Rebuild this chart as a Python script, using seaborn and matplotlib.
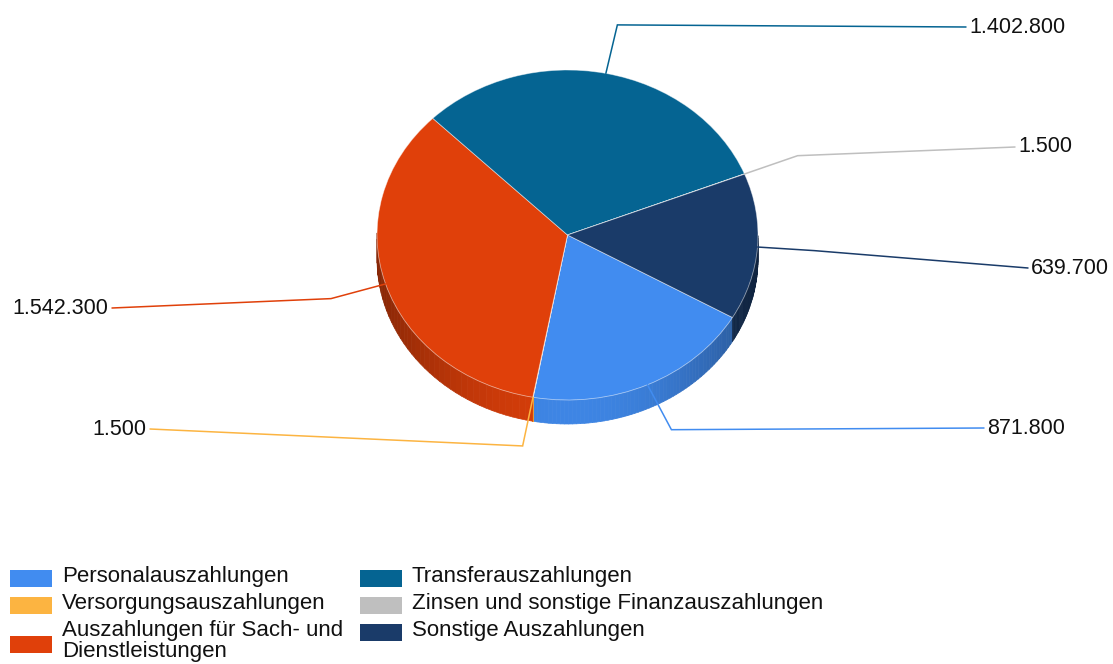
import numpy as np
import matplotlib
matplotlib.use("Agg")
import matplotlib.pyplot as plt
from matplotlib.collections import PolyCollection
from matplotlib.colors import to_rgb
from matplotlib.patches import Rectangle
import seaborn as sns

# data
categories = ["Personalauszahlungen", "Versorgungsauszahlungen",
              "Auszahlungen für Sach- und\nDienstleistungen", "Transferauszahlungen",
              "Zinsen und sonstige Finanzauszahlungen", "Sonstige Auszahlungen"]
values = [871800, 1500, 1542300, 1402800, 1500, 639700]
colors = ["#418CF0", "#FCB441", "#E0400A", "#056492", "#BFBFBF", "#1A3B69"]

# layout (pixels of the 1113x664 picture)
W, H = 1113, 664
CX, CY, RX, RY = 567.5, 235, 190.5, 165
DEPTH = 24 / RY
label_pos = [(987, 428, "left"), (146, 429, "right"), (108, 308, "right"),
             (969, 27, "left"), (1018, 147, "left"), (1031, 268, "left")]

sns.set_style("white")
plt.rcParams["font.family"] = ["Liberation Sans", "DejaVu Sans"]
pal = sns.color_palette(colors)

fig = plt.figure(figsize=(W / 100, H / 100), dpi=100)
ax = fig.add_axes([0, 0, 1, 1])


def px(x, y):
    return (x - CX) / RX, (CY - y) / RY


wedges, _ = ax.pie(values, colors=pal, startangle=-30, counterclock=False,
                   radius=1, center=(0, 0), frame=True,
                   wedgeprops=dict(linewidth=0.6, edgecolor=(1, 1, 1, 0.5), zorder=3))

# side wall of the tilted pie
polys, fcs = [], []
for w, c in zip(wedges, pal):
    t = np.radians(np.linspace(w.theta1, w.theta2, 60))
    for a, b in zip(t[:-1], t[1:]):
        m = (a + b) / 2
        if np.sin(m) >= 0:
            continue
        polys.append([(np.cos(a), np.sin(a)), (np.cos(b), np.sin(b)),
                      (np.cos(b), np.sin(b) - DEPTH), (np.cos(a), np.sin(a) - DEPTH)])
        f = 0.6 + 0.35 * np.sin(m) ** 2
        fcs.append(tuple(np.array(to_rgb(c)) * f))
ax.add_collection(PolyCollection(polys, facecolors=fcs, edgecolors=fcs, linewidths=0.5, zorder=2))

# leader lines and value labels
for w, c, v, (lx, ly, ha) in zip(wedges, pal, values, label_pos):
    mid = np.radians((w.theta1 + w.theta2) / 2)
    ux, uy = np.cos(mid), np.sin(mid)
    ex, ey = px(lx - 3 if ha == "left" else lx + 4, ly)
    ax.plot([ux, 1.3 * ux, ex], [uy, 1.3 * uy, ey], color=c, lw=1.1, zorder=4,
            solid_joinstyle="miter")
    tx, ty = px(lx, ly)
    ax.text(tx, ty, f"{v:,}".replace(",", "."), ha=ha, va="center",
            fontsize=15.5, color="#111111")

ax.set_aspect("auto")
ax.set_xlim(px(0, 0)[0], px(W, 0)[0])
ax.set_ylim(px(0, H)[1], px(0, 0)[1])
ax.axis("off")

# legend
for i, (lab, c) in enumerate(zip(categories, pal)):
    col, row = divmod(i, 3)
    x0 = 10 + col * 350
    ytop = 567 + row * 27
    nlines = lab.count("\n") + 1
    yc = ytop + 11 * nlines + (0 if nlines == 1 else 1)
    fig.add_artist(Rectangle((x0 / W, 1 - (yc + 8.5) / H), 42 / W, 17 / H,
                             transform=fig.transFigure, facecolor=c, edgecolor="none"))
    fig.text((x0 + 52) / W, 1 - (ytop - 1) / H, lab, ha="left", va="top",
             fontsize=16, color="#111111", linespacing=1.0)

fig.savefig("out.png", dpi=100)
